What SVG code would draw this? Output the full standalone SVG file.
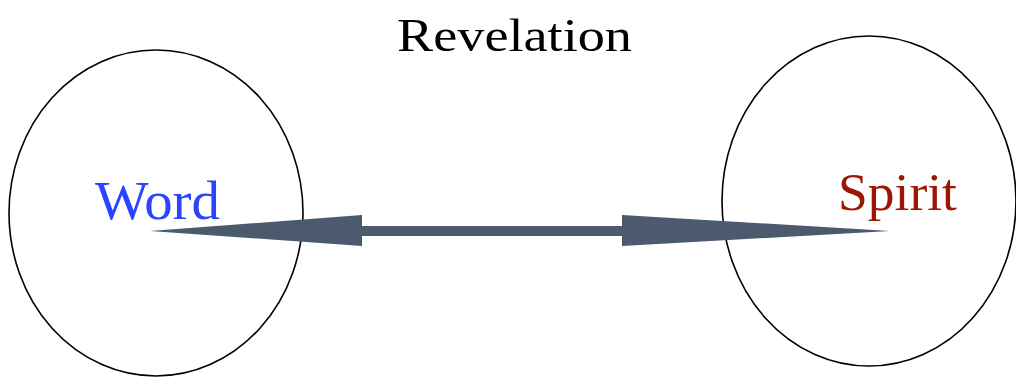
<svg xmlns="http://www.w3.org/2000/svg" width="1016" height="377" viewBox="0 0 1016 377">
<style>
.node{fill:none;stroke:#000;stroke-width:1.6}
.lbl{font-family:"Liberation Serif",serif}
</style>
<rect width="1016" height="377" fill="#fff"/>
<g id="title"><text class="lbl" x="397" y="51" font-size="46" textLength="235" lengthAdjust="spacingAndGlyphs" fill="#000">Revelation</text></g>
<g id="word"><ellipse class="node" cx="156" cy="213" rx="147" ry="163"/><text class="lbl" x="95" y="219" font-size="54" textLength="125" lengthAdjust="spacingAndGlyphs" fill="#2a44ff">Word</text></g>
<g id="spirit"><ellipse class="node" cx="869" cy="201" rx="147" ry="165"/><text class="lbl" x="838" y="210" font-size="53" textLength="119" lengthAdjust="spacingAndGlyphs" fill="#9c1606">Spirit</text></g>
<g id="connectors"><path d="M150,231 L362,215 L362,226 L622,226 L622,215 L890,231 L622,246 L622,236 L362,236 L362,246 Z" fill="#4b5b6d"/></g>
</svg>
